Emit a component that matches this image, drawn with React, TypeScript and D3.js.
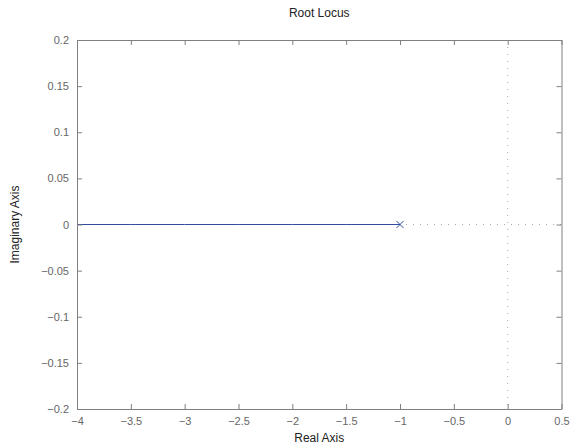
import { useEffect, useRef } from "react"
import * as d3 from "d3"

// root locus: single branch on the real axis, from the pole at -1 to the left edge
const branchRe = [-1, -1.5, -2, -2.5, -3, -3.5, -4]
const branchIm = [0, 0, 0, 0, 0, 0, 0]
const polesRe = [-1]
const polesIm = [0]
const xTicks = [-4, -3.5, -3, -2.5, -2, -1.5, -1, -0.5, 0, 0.5]
const yTicks = [-0.2, -0.15, -0.1, -0.05, 0, 0.05, 0.1, 0.15, 0.2]

const W = 570
const H = 448
const margin = { top: 40, right: 8.5, bottom: 39, left: 77 }

const fmt = (v: number) => {
  const s = String(Math.round(v * 1000) / 1000)
  return s.replace("-", "\u2212")
}

export default function App() {
  const ref = useRef<SVGGElement>(null)
  const w = W - margin.left - margin.right
  const h = H - margin.top - margin.bottom

  const x = d3.scaleLinear().domain([-4, 0.5]).range([0, w])
  const y = d3.scaleLinear().domain([-0.2, 0.2]).range([h, 0])

  useEffect(() => {
    if (!ref.current) return
    const g = d3.select(ref.current)
    g.selectAll("*").remove()
    const axisColor = "#808080"
    const labelColor = "#666"

    // zero lines, dotted
    g.append("line")
      .attr("x1", x(0)).attr("x2", x(0))
      .attr("y1", 0).attr("y2", h)
      .attr("stroke", "#aaa").attr("stroke-dasharray", "1,6")
    g.append("line")
      .attr("x1", 0).attr("x2", w)
      .attr("y1", y(0)).attr("y2", y(0))
      .attr("stroke", "#aaa").attr("stroke-dasharray", "1,6")

    // locus branch
    const line = d3.line<number>()
      .x((_, i) => x(branchRe[i]))
      .y((_, i) => y(branchIm[i]))
    g.append("path")
      .datum(branchRe)
      .attr("d", line)
      .attr("fill", "none")
      .attr("stroke", "#2f4ea0")
      .attr("stroke-width", 1)

    // poles
    const s = 3.5
    polesRe.forEach((re, i) => {
      const px = x(re), py = y(polesIm[i])
      g.append("path")
        .attr("d", `M${px - s},${py - s}L${px + s},${py + s}M${px - s},${py + s}L${px + s},${py - s}`)
        .attr("stroke", "#2f4ea0")
        .attr("stroke-width", 1)
    })

    // axes (box with inward ticks)
    const ax = (gen: any, tr: string) => {
      const a = g.append("g").attr("transform", tr).call(gen)
      a.select(".domain").attr("stroke", axisColor)
      a.selectAll(".tick line").attr("stroke", axisColor)
      a.selectAll("text")
        .attr("fill", labelColor)
        .attr("font-size", "11px")
        .attr("font-family", "'Liberation Sans', Arial, sans-serif")
      return a
    }
    ax(d3.axisBottom(x).tickValues(xTicks).tickSizeInner(-5).tickSizeOuter(0).tickPadding(8).tickFormat((d: any) => fmt(d)), `translate(0,${h})`)
    ax(d3.axisTop(x).tickValues(xTicks).tickSizeInner(-5).tickSizeOuter(0).tickFormat(() => ""), `translate(0,0)`)
    ax(d3.axisLeft(y).tickValues(yTicks).tickSizeInner(-5).tickSizeOuter(0).tickPadding(8).tickFormat((d: any) => fmt(d)), `translate(0,0)`)
    ax(d3.axisRight(y).tickValues(yTicks).tickSizeInner(-5).tickSizeOuter(0).tickFormat(() => ""), `translate(${w},0)`)
  }, [])

  return (
    <svg width={W} height={H} style={{ position: "absolute", left: 0, top: 0, background: "#fff" }}
      fontFamily="'Liberation Sans', Arial, sans-serif">
      <text x={margin.left + w / 2} y={16.5} textAnchor="middle" fontSize="12px" fill="#222">Root Locus</text>
      <g ref={ref} transform={`translate(${margin.left},${margin.top})`} />
      <text x={margin.left + w / 2} y={442} textAnchor="middle" fontSize="12px" fill="#222">Real Axis</text>
      <text transform={`translate(19,${margin.top + h / 2}) rotate(-90)`} textAnchor="middle" fontSize="12px" fill="#222">Imaginary Axis</text>
    </svg>
  )
}
